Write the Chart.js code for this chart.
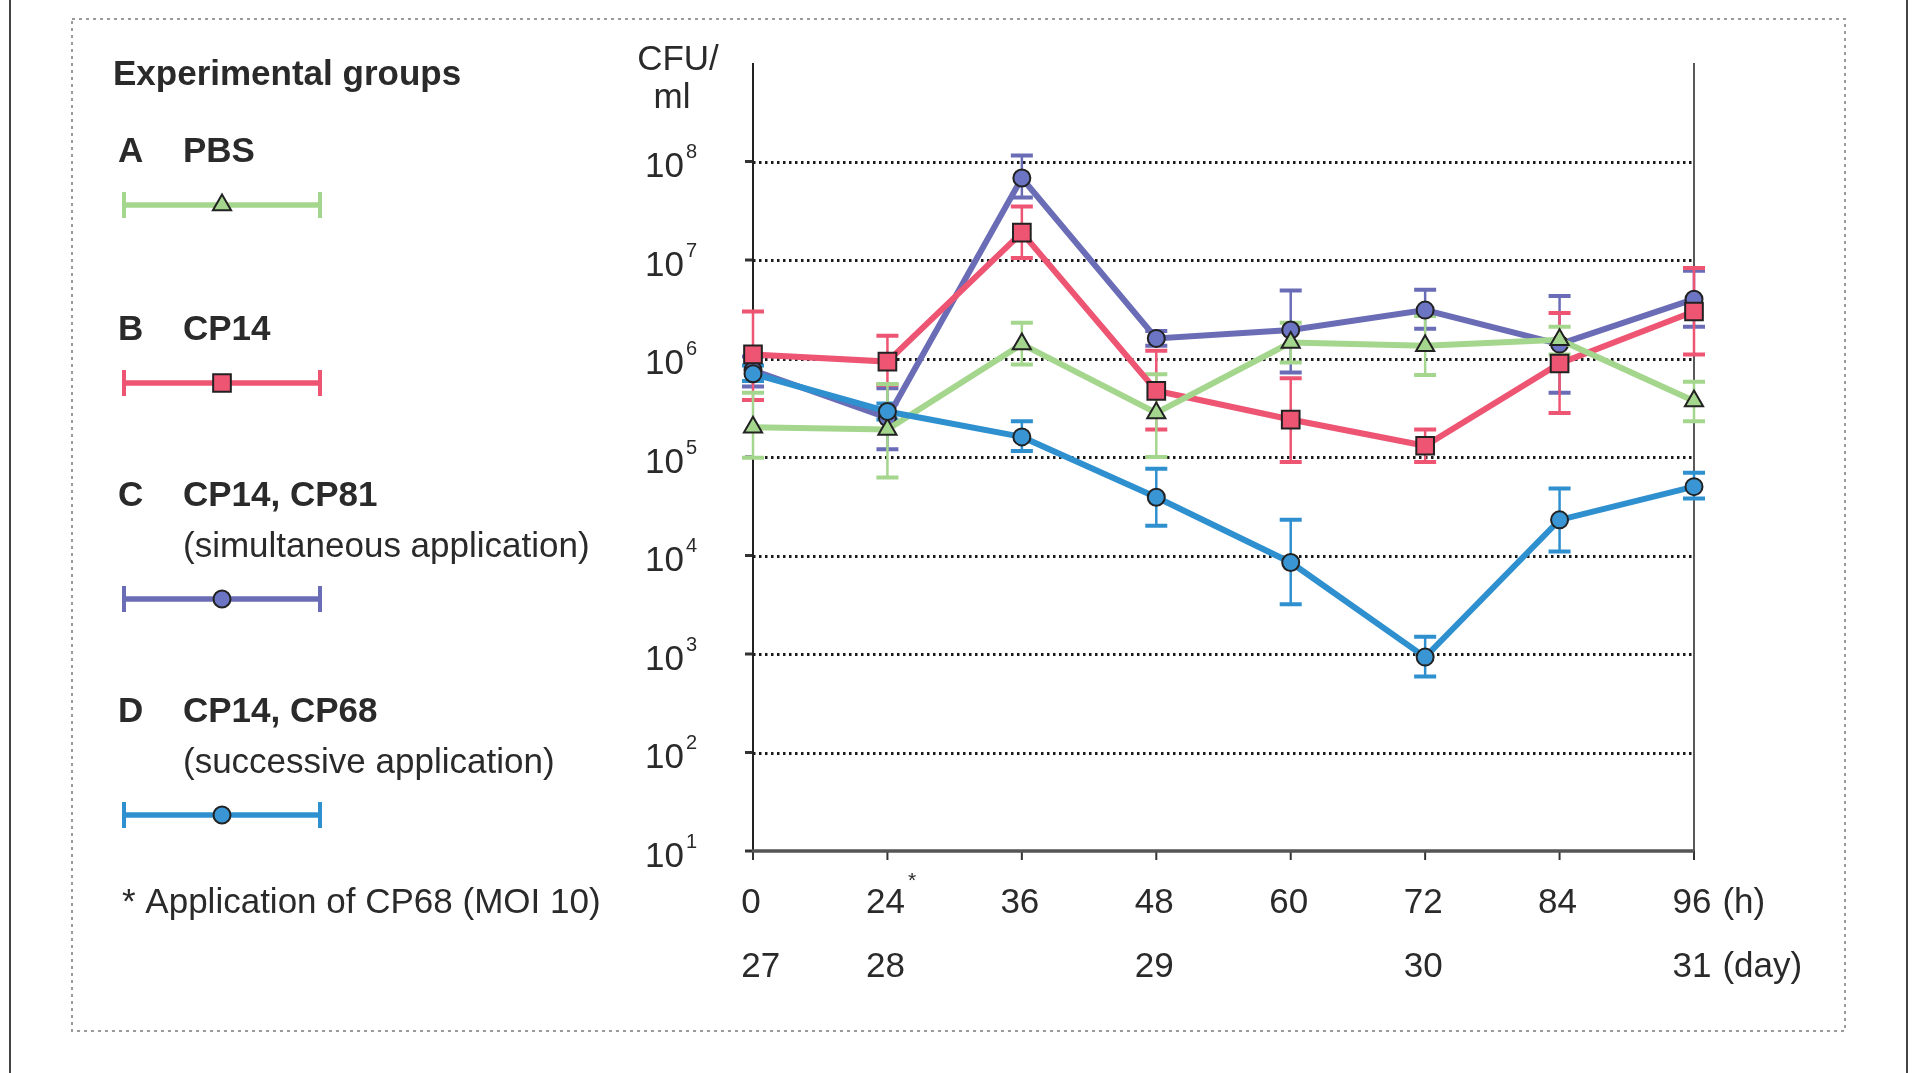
<!DOCTYPE html>
<html>
<head>
<meta charset="utf-8">
<title>CFU/ml</title>
<script src="https://cdn.jsdelivr.net/npm/chart.js@4.4.1/dist/chart.umd.min.js"></script>
<style>
    html, body { margin: 0; padding: 0; background: #fff; }
    #grafica { display: block; }
</style>
</head>
<body>
<canvas id="grafica" width="1914" height="1073"></canvas>
<script>

    /*
     * Datos de la gráfica (UFC/ml por grupo y hora)
     */

    // Etiquetas del eje x: horas y días
    const horas = ["0", "24", "36", "48", "60", "72", "84", "96"];
    const dias = ["27", "28", "", "29", "", "30", "", "31"];

    // Exponentes del eje y (10^1 ... 10^8)
    const exponentes = [1, 2, 3, 4, 5, 6, 7, 8];

    // Grupos experimentales
    const letras = ["A", "B", "C", "D"];
    const grupos = ["PBS", "CP14", "CP14, CP81", "CP14, CP68"];
    const subtitulos = ["", "", "(simultaneous application)", "(successive application)"];

    // A  PBS
    const pbsMedia = [2.0e5, 1.9e5, 1.4e6, 2.8e5, 1.45e6, 1.35e6, 1.55e6, 3.7e5];
    const pbsMax = [4.5e5, 5.5e5, 2.3e6, 6.9e5, 2.3e6, 2.7e6, 2.1e6, 5.8e5];
    const pbsMin = [9.8e4, 6.2e4, 8.7e5, 1.0e5, 9.1e5, 6.8e5, 1.1e6, 2.3e5];

    // B  CP14
    const cp14Media = [1.1e6, 9.3e5, 1.9e7, 4.7e5, 2.4e5, 1.3e5, 8.9e5, 3.0e6];
    const cp14Max = [3.0e6, 1.7e6, 3.5e7, 1.2e6, 6.3e5, 1.9e5, 2.9e6, 8.3e6];
    const cp14Min = [3.8e5, 5.4e5, 1.05e7, 1.9e5, 8.9e4, 8.9e4, 2.8e5, 1.1e6];

    // C  CP14, CP81
    const cp81Media = [7.6e5, 2.5e5, 6.8e7, 1.6e6, 1.95e6, 3.1e6, 1.4e6, 4.0e6];
    const cp81Max = [1.05e6, 5.0e5, 1.15e8, 1.9e6, 4.9e6, 5.0e6, 4.3e6, 7.8e6];
    const cp81Min = [5.2e5, 1.2e5, 4.3e7, 1.35e6, 7.2e5, 2.0e6, 4.5e5, 2.1e6];

    // D  CP14, CP68
    const cp68Media = [7.0e5, 2.9e5, 1.6e5, 3.9e4, 8.5e3, 9.3e2, 2.3e4, 5.0e4];
    const cp68Max = [8.5e5, 3.5e5, 2.3e5, 7.6e4, 2.3e4, 1.5e3, 4.8e4, 6.9e4];
    const cp68Min = [5.9e5, 2.4e5, 1.15e5, 2.0e4, 3.2e3, 5.9e2, 1.1e4, 3.8e4];

    const fuente = "'Liberation Sans', Arial, sans-serif";
    const colorTexto = "#2a2a2a";

    // Dibuja un marcador igual que los de Chart.js (para la leyenda)
    function dibujarMarcador(ctx, estilo, x, y, r, relleno) {
        ctx.save();
        ctx.fillStyle = relleno;
        ctx.strokeStyle = "#222";
        ctx.lineWidth = 2;
        ctx.beginPath();
        if (estilo === "triangle") {
            ctx.moveTo(x, y - r);
            ctx.lineTo(x + r * Math.sqrt(3) / 2, y + r / 2);
            ctx.lineTo(x - r * Math.sqrt(3) / 2, y + r / 2);
            ctx.closePath();
        } else if (estilo === "rect") {
            const s = r * Math.SQRT1_2;
            ctx.rect(x - s, y - s, 2 * s, 2 * s);
        } else {
            ctx.arc(x, y, r, 0, Math.PI * 2);
        }
        ctx.fill();
        ctx.stroke();
        ctx.restore();
    }

    // Marco, rejilla punteada y ejes
    const ejes = {
        id: "ejes",
        beforeDatasetsDraw(chart) {
            const ctx = chart.ctx;
            const area = chart.chartArea;
            const ejeX = chart.scales.x;
            const ejeY = chart.scales.y;
            ctx.save();

            // líneas verticales de la figura original
            ctx.strokeStyle = "#444";
            ctx.lineWidth = 2;
            ctx.beginPath();
            ctx.moveTo(10, 0); ctx.lineTo(10, 1073);
            ctx.moveTo(1907, 0); ctx.lineTo(1907, 1073);
            ctx.stroke();

            // recuadro punteado gris
            ctx.strokeStyle = "#9a9a9a";
            ctx.lineWidth = 2;
            ctx.setLineDash([3, 4]);
            ctx.strokeRect(72, 19, 1773, 1012);

            // rejilla punteada
            ctx.strokeStyle = "#1a1a1a";
            ctx.lineWidth = 3;
            ctx.setLineDash([2.5, 3.5]);
            exponentes.forEach(e => {
                if (e < 2) return;
                const py = Math.round(ejeY.getPixelForValue(Math.pow(10, e))) + 0.5;
                ctx.beginPath();
                ctx.moveTo(area.left, py);
                ctx.lineTo(area.right, py);
                ctx.stroke();
            });
            ctx.setLineDash([]);

            // marcas del eje y
            ctx.strokeStyle = "#333";
            ctx.lineWidth = 3;
            exponentes.forEach(e => {
                const py = ejeY.getPixelForValue(Math.pow(10, e));
                ctx.beginPath();
                ctx.moveTo(area.left - 8, py);
                ctx.lineTo(area.left, py);
                ctx.stroke();
            });

            // marcas del eje x
            ctx.lineWidth = 2;
            horas.forEach((h, i) => {
                const px = ejeX.getPixelForTick(i);
                ctx.beginPath();
                ctx.moveTo(px, area.bottom);
                ctx.lineTo(px, area.bottom + 9);
                ctx.stroke();
            });

            // ejes
            ctx.strokeStyle = "#222";
            ctx.lineWidth = 2;
            ctx.beginPath();
            ctx.moveTo(area.left, area.top);
            ctx.lineTo(area.left, area.bottom);
            ctx.stroke();
            ctx.lineWidth = 1.5;
            ctx.beginPath();
            ctx.moveTo(area.right, area.top);
            ctx.lineTo(area.right, area.bottom);
            ctx.stroke();
            ctx.strokeStyle = "#555";
            ctx.lineWidth = 3.5;
            ctx.beginPath();
            ctx.moveTo(area.left - 1, area.bottom);
            ctx.lineTo(area.right, area.bottom);
            ctx.stroke();

            ctx.restore();
        }
    };

    // Barras de error (máximo y mínimo de cada punto)
    const barrasError = {
        id: "barrasError",
        beforeDatasetsDraw(chart) {
            const ctx = chart.ctx;
            const ejeY = chart.scales.y;
            ctx.save();
            for (let i = chart.data.datasets.length - 1; i >= 0; i--) {
                const ds = chart.data.datasets[i];
                const meta = chart.getDatasetMeta(i);
                ctx.strokeStyle = ds.borderColor;
                meta.data.forEach((p, j) => {
                    const yMax = ejeY.getPixelForValue(ds.errorMax[j]);
                    const yMin = ejeY.getPixelForValue(ds.errorMin[j]);
                    ctx.lineWidth = 2.5;
                    ctx.beginPath();
                    ctx.moveTo(p.x, yMax);
                    ctx.lineTo(p.x, yMin);
                    ctx.stroke();
                    ctx.lineWidth = 4;
                    ctx.beginPath();
                    ctx.moveTo(p.x - 11, yMax); ctx.lineTo(p.x + 11, yMax);
                    ctx.moveTo(p.x - 11, yMin); ctx.lineTo(p.x + 11, yMin);
                    ctx.stroke();
                });
            }
            ctx.restore();
        }
    };

    // Textos: etiquetas de los ejes y leyenda de grupos
    const textos = {
        id: "textos",
        afterDraw(chart) {
            const ctx = chart.ctx;
            const ejeX = chart.scales.x;
            const ejeY = chart.scales.y;
            ctx.save();
            ctx.fillStyle = colorTexto;
            ctx.textBaseline = "middle";

            // título del eje y
            ctx.font = "35px " + fuente;
            ctx.textAlign = "center";
            ctx.fillText("CFU/", 678, 60);
            ctx.fillText("ml", 672, 98);

            // etiquetas del eje y (10 con exponente)
            exponentes.forEach(e => {
                const py = ejeY.getPixelForValue(Math.pow(10, e));
                ctx.font = "35px " + fuente;
                ctx.textAlign = "right";
                ctx.fillText("10", 684, py + 6);
                ctx.font = "20px " + fuente;
                ctx.textAlign = "left";
                ctx.fillText(String(e), 686, py - 9);
            });

            // etiquetas del eje x: horas y días (días alineados a la izquierda con las horas)
            horas.forEach((h, i) => {
                const px = ejeX.getPixelForTick(i);
                ctx.font = "35px " + fuente;
                const anchoH = ctx.measureText(h).width;
                const izq = px - anchoH / 2 - 2;
                ctx.textAlign = "left";
                ctx.fillText(h, izq, 903);
                if (dias[i] !== "") ctx.fillText(dias[i], izq, 967);
                if (i === horas.length - 1) {
                    ctx.fillText("(h)", izq + anchoH + 11, 903);
                    ctx.fillText("(day)", izq + ctx.measureText(dias[i]).width + 11, 967);
                }
                if (h === "24") {
                    ctx.font = "21px " + fuente;
                    ctx.fillText("*", izq + anchoH + 3, 881);
                }
            });

            // leyenda
            ctx.textAlign = "left";
            ctx.font = "bold 35px " + fuente;
            ctx.fillText("Experimental groups", 113, 75);

            const filasTexto = [152, 330, 496, 712];
            const filasLinea = [205, 383, 599, 815];
            chart.data.datasets.forEach((ds, i) => {
                ctx.fillStyle = colorTexto;
                ctx.font = "bold 35px " + fuente;
                ctx.fillText(letras[i], 118, filasTexto[i]);
                ctx.fillText(grupos[i], 183, filasTexto[i]);
                if (subtitulos[i] !== "") {
                    ctx.font = "35px " + fuente;
                    ctx.fillText(subtitulos[i], 183, filasTexto[i] + 51);
                }
                const yl = filasLinea[i];
                ctx.strokeStyle = ds.borderColor;
                ctx.lineWidth = 5.5;
                ctx.beginPath();
                ctx.moveTo(122, yl); ctx.lineTo(321, yl);
                ctx.stroke();
                ctx.lineWidth = 4;
                ctx.beginPath();
                ctx.moveTo(124, yl - 13); ctx.lineTo(124, yl + 13);
                ctx.moveTo(320, yl - 13); ctx.lineTo(320, yl + 13);
                ctx.stroke();
                dibujarMarcador(ctx, ds.pointStyle, 222, yl, ds.pointRadius, ds.pointBackgroundColor);
            });

            ctx.fillStyle = colorTexto;
            ctx.font = "35px " + fuente;
            ctx.fillText("* Application of CP68 (MOI 10)", 122, 903);

            ctx.restore();
        }
    };

    // Series de datos
    const datosGrupos = {
        labels: horas,
        datasets: [
            {
                label: grupos[0],
                data: pbsMedia,
                errorMax: pbsMax,
                errorMin: pbsMin,
                borderColor: "#a5d68d",
                pointBackgroundColor: "#a5d68d",
                pointStyle: "triangle",
                pointRadius: 10.5,
                order: 2
            },
            {
                label: grupos[1],
                data: cp14Media,
                errorMax: cp14Max,
                errorMin: cp14Min,
                borderColor: "#ee5573",
                pointBackgroundColor: "#ee5573",
                pointStyle: "rect",
                pointRadius: 12.5,
                order: 3
            },
            {
                label: grupos[2],
                data: cp81Media,
                errorMax: cp81Max,
                errorMin: cp81Min,
                borderColor: "#6a6db6",
                pointBackgroundColor: "#6c75c4",
                pointStyle: "circle",
                pointRadius: 8.5,
                order: 4
            },
            {
                label: grupos[3],
                data: cp68Media,
                errorMax: cp68Max,
                errorMin: cp68Min,
                borderColor: "#2f90d0",
                pointBackgroundColor: "#3995d4",
                pointStyle: "circle",
                pointRadius: 8.5,
                order: 1
            }
        ]
    };

    // Opciones generales
    const opciones = {
        responsive: false,
        animation: false,
        layout: {
            padding: { left: 753, right: 220, top: 63, bottom: 222 }
        },
        datasets: {
            line: {
                borderWidth: 6,
                pointBorderColor: "#222",
                pointBorderWidth: 2,
                tension: 0,
                clip: false
            }
        },
        plugins: {
            legend: { display: false },
            tooltip: { enabled: false }
        },
        scales: {
            x: {
                type: "category",
                offset: false,
                display: false
            },
            y: {
                type: "logarithmic",
                min: 10,
                max: 1e9,
                display: false
            }
        }
    };

    const grafica = new Chart(document.getElementById("grafica"), {
        type: "line",
        data: datosGrupos,
        options: opciones,
        plugins: [ejes, barrasError, textos]
    });
</script>
</body>
</html>
